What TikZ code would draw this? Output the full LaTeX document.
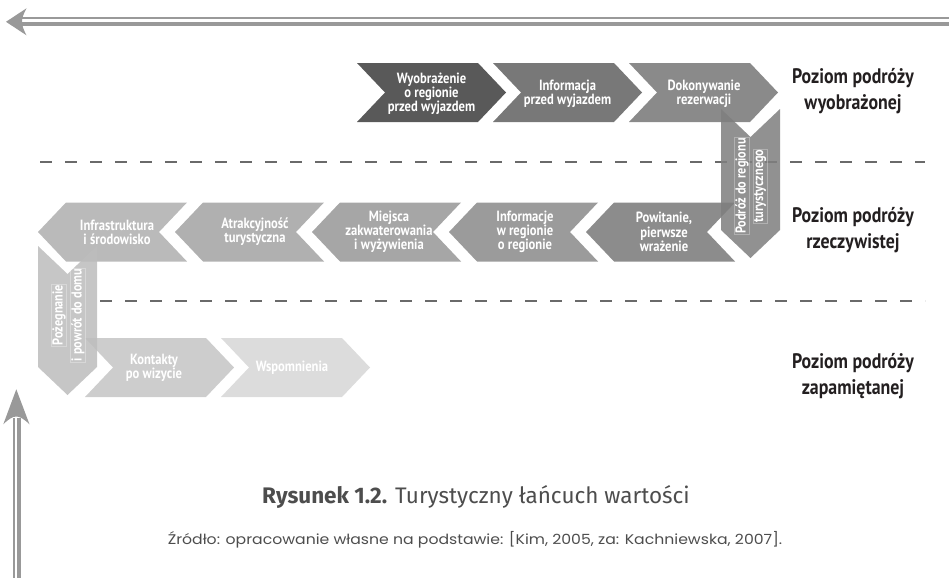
\documentclass[tikz,border=0pt]{standalone}
\usepackage{fontspec}
\setmainfont{PT Sans}
\newfontfamily\condfont{PT Sans}[FakeStretch=0.85]
\newfontfamily\capfont{Fira Sans}
\newfontfamily\srcfont{Poppins}[FakeStretch=1.12]
\definecolor{arrowgray}{HTML}{999999}
\definecolor{dashgray}{HTML}{6A6A6A}
\definecolor{ca}{HTML}{595959}
\definecolor{cb}{HTML}{787878}
\definecolor{cc}{HTML}{8A8A8A}
\definecolor{cv}{HTML}{7F7F7F}
\definecolor{cm1}{HTML}{8C8C8C}
\definecolor{cm2}{HTML}{9B9B9B}
\definecolor{cm3}{HTML}{A6A6A6}
\definecolor{cm4}{HTML}{B0B0B0}
\definecolor{cm5}{HTML}{BABABA}
\definecolor{cw}{HTML}{BDBDBD}
\definecolor{cb1}{HTML}{CDCDCD}
\definecolor{cb2}{HTML}{DCDCDC}
\definecolor{labeltext}{HTML}{231F20}
\definecolor{captext}{HTML}{4D4D4D}
\begin{document}
\begin{tikzpicture}[x=1pt,y=-1pt,
  ctext/.style={text=white, align=center, inner sep=0pt,
    font=\condfont\bfseries\fontsize{14.8}{14.2}\selectfont},
  vtext/.style={text=white, align=center, inner sep=0.8pt, rotate=90,
    draw=white, draw opacity=0.3, line width=0.4pt,
    font=\condfont\bfseries\fontsize{14.4}{14}\selectfont},
  lvl/.style={text=labeltext, align=center, inner sep=0pt,
    font=\condfont\bfseries\fontsize{21}{26}\selectfont},
  dashline/.style={draw=dashgray, line width=2.8pt, dash pattern=on 12pt off 13pt},
  vchev/.style={fill opacity=0.86}
]
\useasboundingbox (0,0) rectangle (949,578);

% ---- big arrows
\draw[arrowgray, line width=1.4pt] (20,18) -- (949,18);
\draw[arrowgray, line width=4pt] (20,23.7) -- (949,23.7);
\fill[arrowgray] (6,21.8) -- (26.5,8.3) .. controls (23.5,14) and (22,18) .. (22,21.8)
  .. controls (22,25.6) and (23.5,29.6) .. (26.5,35.3) -- cycle;

\draw[arrowgray, line width=1.8pt] (13.7,418) -- (13.7,578);
\draw[arrowgray, line width=4pt] (18.7,418) -- (18.7,578);
\fill[arrowgray] (16.3,389.3) -- (29.5,424.3) .. controls (24,419) and (20,416.5) .. (16.3,416.5)
  .. controls (12.6,416.5) and (8.6,419) .. (3.3,424.3) -- cycle;

% ---- dashed level separators
\draw[dashline] (40,162) -- (925,162);
\draw[dashline] (100,301) -- (925,301);

% ---- top row (right-pointing)
\fill[ca] (357,63) -- ++(121,0) -- ++(28,29.5) -- ++(-28,29.5) -- ++(-121,0) -- ++(28,-29.5) -- cycle;
\fill[cb] (493,63) -- ++(121,0) -- ++(28,29.5) -- ++(-28,29.5) -- ++(-121,0) -- ++(28,-29.5) -- cycle;
\fill[cc] (629,63) -- ++(121,0) -- ++(28,29.5) -- ++(-28,29.5) -- ++(-121,0) -- ++(28,-29.5) -- cycle;
\node[ctext] (t1) at (431.5,93.5) {Wyobrażenie\\o regionie\\przed wyjazdem};
\node[ctext] (t2) at (567.5,93.5) {Informacja\\przed wyjazdem};
\node[ctext] (t3) at (704,93.5) {Dokonywanie\\rezerwacji};

% ---- middle row (left-pointing), tips at x
\fill[cm1] (586,232) -- ++(28,-29.5) -- ++(121,0) -- ++(-28,29.5) -- ++(28,29.5) -- ++(-121,0) -- cycle;
\fill[cm2] (449,232) -- ++(28,-29.5) -- ++(121,0) -- ++(-28,29.5) -- ++(28,29.5) -- ++(-121,0) -- cycle;
\fill[cm3] (312,232) -- ++(28,-29.5) -- ++(121,0) -- ++(-28,29.5) -- ++(28,29.5) -- ++(-121,0) -- cycle;
\fill[cm4] (175,232) -- ++(28,-29.5) -- ++(121,0) -- ++(-28,29.5) -- ++(28,29.5) -- ++(-121,0) -- cycle;
\fill[cm5] (38,232) -- ++(28,-29.5) -- ++(121,0) -- ++(-28,29.5) -- ++(28,29.5) -- ++(-121,0) -- cycle;
\node[ctext] (m1) at (664,232) {Powitanie,\\pierwsze\\wrażenie};
\node[ctext] (m2) at (525,232) {Informacje\\w regionie\\o regionie};
\node[ctext] (m3) at (389,232) {Miejsca\\zakwaterowania\\i wyżywienia};
\node[ctext] (m4) at (255,232) {Atrakcyjność\\turystyczna};
\node[ctext] (m5) at (117,232) {Infrastruktura\\i środowisko};

% ---- bottom row (right-pointing)
\fill[cb1] (85,338) -- ++(121,0) -- ++(28,29.5) -- ++(-28,29.5) -- ++(-121,0) -- ++(28,-29.5) -- cycle;
\fill[cb2] (221,338) -- ++(121,0) -- ++(28,29.5) -- ++(-28,29.5) -- ++(-121,0) -- ++(28,-29.5) -- cycle;
\node[ctext] (b1) at (154,368) {Kontakty\\po wizycie};
\node[ctext] (b2) at (292,368) {Wspomnienia};

% ---- vertical (down-pointing) chevrons
\fill[cv, vchev] (721,109) -- ++(29.5,28) -- ++(29.5,-28) -- ++(0,121) -- ++(-29.5,28) -- ++(-29.5,-28) -- cycle;
\fill[cw, vchev] (38,246) -- ++(29.5,28) -- ++(29.5,-28) -- ++(0,121) -- ++(-29.5,28) -- ++(-29.5,-28) -- cycle;
\node[vtext] (v1a) at (742,186) {Podróż do regionu};
\node[vtext] (v1b) at (760,186) {turystycznego};
\node[vtext] (v2a) at (59,315) {Pożegnanie};
\node[vtext] (v2b) at (78,315) {i powrót do domu};

% ---- level labels
\node[lvl] (l1) at (853,91) {Poziom podróży\\wyobrażonej};
\node[lvl] (l2) at (853,230) {Poziom podróży\\rzeczywistej};
\node[lvl] (l3) at (853,376) {Poziom podróży\\zapamiętanej};

% ---- caption and source
\node[text=captext, inner sep=0pt, font=\capfont\fontsize{22.5}{26}\selectfont] (cap) at (476,497)
  {{\bfseries Rysunek 1.2.} Turystyczny łańcuch wartości};
\node[text=captext, inner sep=0pt, font=\srcfont\fontsize{14}{16}\selectfont] (src) at (475,540)
  {Źródło: opracowanie własne na podstawie: [Kim, 2005, za: Kachniewska, 2007].};
\end{tikzpicture}
\end{document}
